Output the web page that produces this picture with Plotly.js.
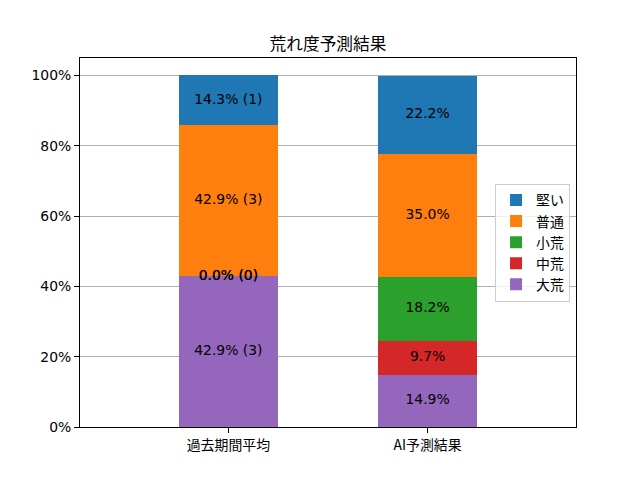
<!DOCTYPE html>
<html><head><meta charset="utf-8">
<script src="https://cdn.plot.ly/plotly-3.0.1.min.js"></script>
<style>body{margin:0}</style>
</head><body><div id="c" style="width:640px;height:480px"></div>
<script>
const categories = ['過去期間平均', 'AI予測結果'];
const seriesNames = ['大荒', '中荒', '小荒', '普通', '堅い'];
const daiare = [42.9, 14.9];
const chuare = [0.0, 9.7];
const shoare = [0.0, 18.2];
const futsu = [42.9, 35.0];
const katai = [14.3, 22.2];
const pastCounts = [3, 0, 0, 3, 1];
const colors = ['#9467bd', '#d62728', '#2ca02c', '#ff7f0e', '#1f77b4'];
const yTickVals = [0, 20, 40, 60, 80, 100];
const yTickText = ['0%', '20%', '40%', '60%', '80%', '100%'];

const series = [daiare, chuare, shoare, futsu, katai];
const font = 'DejaVu Sans, Noto Sans CJK JP, sans-serif';
const cjk = 'Noto Sans CJK JP, DejaVu Sans, sans-serif';

const traces = series.map((vals, i) => ({
  type: 'bar', name: seriesNames[i], x: categories, y: vals,
  marker: {color: colors[i], line: {width: 0}}, width: 0.5,
  hoverinfo: 'skip'
}));

// text labels at segment midpoints
const tx = [], ty = [], tt = [];
const cum = [0, 0];
series.forEach((vals, i) => {
  vals.forEach((v, j) => {
    const mid = cum[j] + v / 2;
    cum[j] += v;
    tx.push(categories[j]); ty.push(mid);
    tt.push(j === 0 ? v.toFixed(1) + '% (' + pastCounts[i] + ')' : v.toFixed(1) + '%');
  });
});
traces.push({type: 'scatter', mode: 'text', x: tx, y: ty, text: tt, showlegend: false,
  textfont: {family: font, size: 13.9, color: '#000'}, hoverinfo: 'skip', cliponaxis: false});

const layout = {
  width: 640, height: 480, barmode: 'stack',
  margin: {l: 80, r: 64, t: 57.6, b: 53, pad: 0},
  paper_bgcolor: '#fff', plot_bgcolor: '#fff',
  title: {text: '荒れ度予測結果', font: {family: cjk, size: 16.7, color: '#000'},
    x: 0.5, xref: 'paper', y: 1, yref: 'paper', yanchor: 'bottom', pad: {b: 8}},
  xaxis: {type: 'category', range: [-0.745, 1.745], showline: true, mirror: true,
    linecolor: '#000', linewidth: 1, ticks: 'outside', ticklen: 5, tickcolor: '#000',
    tickfont: {family: cjk, size: 13.9, color: '#000'}, showgrid: false, zeroline: false},
  yaxis: {range: [0, 105], tickvals: yTickVals, ticktext: yTickText, showline: true, mirror: true,
    linecolor: '#000', linewidth: 1, ticks: 'outside', ticklen: 5, tickcolor: '#000',
    tickfont: {family: font, size: 13.9, color: '#000'}, showgrid: true, gridcolor: '#b0b0b0',
    gridwidth: 1, zeroline: false},
  legend: {x: 0.988, xanchor: 'right', y: 0.5, yanchor: 'middle', traceorder: 'reversed',
    bordercolor: '#cccccc', borderwidth: 1, bgcolor: 'rgba(255,255,255,0.8)',
    font: {family: cjk, size: 13.9, color: '#000'}},
  showlegend: true
};
Plotly.newPlot('c', traces, layout, {displayModeBar: false, staticPlot: true});
</script></body></html>
